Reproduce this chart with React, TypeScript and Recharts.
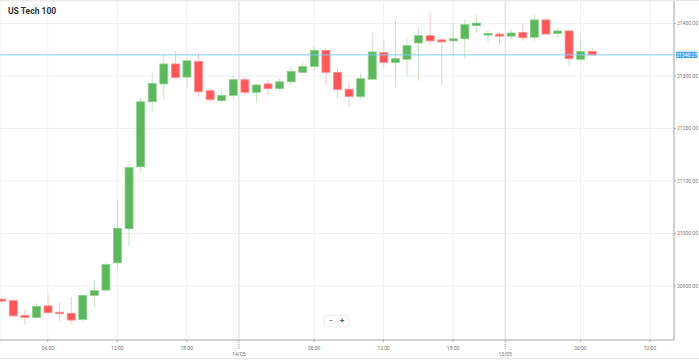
import React from "react";
import { ComposedChart, Bar, XAxis, YAxis, CartesianGrid, ReferenceLine } from "recharts";

// hourly candles, 13/05 02:00 -> 15/05 07:00 (the 23:00 hour is closed)
const opens = [
  20875, 20872, 20844, 20840, 20862, 20850, 20848, 20836, 20882, 20892, 20944, 21009, 21127, 21251,
  21285, 21323, 21298, 21328, 21272, 21253, 21263, 21293, 21269, 21285, 21276, 21289, 21307, 21318,
  21349, 21307, 21275, 21261, 21294, 21345, 21326, 21332, 21363, 21377, 21369, 21367, 21371, 21396,
  21378, 21380, 21376, 21383, 21374, 21407, 21381, 21386, 21332, 21347,
];
const closes = [
  20871, 20843, 20840, 20861, 20849, 20847, 20835, 20882, 20891, 20941, 21010, 21126, 21251, 21286,
  21323, 21297, 21329, 21270, 21255, 21263, 21293, 21269, 21283, 21276, 21289, 21309, 21318, 21349,
  21307, 21274, 21261, 21295, 21346, 21326, 21333, 21358, 21377, 21367, 21365, 21371, 21398, 21401,
  21381, 21376, 21382, 21373, 21407, 21380, 21386, 21333, 21347, 21340.27,
];
const highs = [
  20878, 20877, 20856, 20867, 20883, 20869, 20879, 20884, 20911, 20946, 21064, 21133, 21259, 21306,
  21340, 21348, 21331, 21344, 21275, 21274, 21302, 21298, 21285, 21293, 21296, 21317, 21325, 21356,
  21353, 21315, 21289, 21306, 21383, 21369, 21406, 21372, 21391, 21421, 21371, 21401, 21408, 21417,
  21388, 21384, 21388, 21399, 21417, 21411, 21391, 21388, 21369, 21354,
];
const lows = [
  20866, 20841, 20826, 20838, 20847, 20832, 20828, 20832, 20860, 20888, 20932, 20975, 21117, 21232,
  21255, 21294, 21277, 21261, 21249, 21251, 21255, 21262, 21249, 21264, 21272, 21283, 21305, 21309,
  21283, 21258, 21242, 21256, 21293, 21317, 21279, 21300, 21291, 21358, 21283, 21340, 21333, 21382,
  21365, 21358, 21369, 21367, 21367, 21378, 21375, 21319, 21328, 21340,
];

const tickPositions = [4, 10, 16, 20.5, 27, 33, 39, 43.5, 50, 56];
const tickLabels = ["06:00", "12:00", "18:00", "14/05", "06:00", "12:00", "18:00", "15/05", "06:00", "12:00"];
const dayBreaks = [20.5, 43.5];

const priceTicks = [20900, 21000, 21100, 21200, 21300, 21400];
const lastPrice = 21340.27;

const data = opens.map((o, i) => ({ i, open: o, close: closes[i], high: highs[i], low: lows[i] }));

const GREEN = "#5cb85c";
const RED = "#ff5757";

const Candle = (props: any) => {
  const { x, y, width, height, payload } = props;
  if (!payload) return null;
  const { open, close, high, low } = payload;
  const up = close >= open;
  const top = Math.min(y, y + height);
  const h = Math.abs(height);
  const ratio = h / (high - low || 1);
  const bodyTop = top + (high - Math.max(open, close)) * ratio;
  const bodyH = Math.max(Math.abs(open - close) * ratio, 1.5);
  const cx = x + width / 2;
  return (
    <g>
      <line x1={cx} x2={cx} y1={top} y2={top + h} stroke={up ? "#c3e4c2" : "#ffc4c4"} strokeWidth={1} />
      <rect
        x={x}
        y={bodyTop}
        width={width}
        height={bodyH}
        fill={up ? GREEN : RED}
        stroke={up ? "#8ccf8a" : "#ff8f8f"}
        strokeWidth={0.8}
      />
    </g>
  );
};

const TimeTick = (props: any) => {
  const { x, y, payload } = props;
  const idx = tickPositions.indexOf(payload.value);
  const label = idx >= 0 ? tickLabels[idx] : "";
  const isDate = label.includes("/");
  return (
    <g>
      {isDate ? (
        <line x1={x} x2={x} y1={y} y2={y + 10} stroke="#999" strokeDasharray="1 1" />
      ) : (
        <line x1={x} x2={x} y1={y} y2={y + 2} stroke="#aaa" />
      )}
      <text x={x} y={isDate ? y + 16 : y + 10} textAnchor="middle" fontSize={5} fill="#777">
        {label}
      </text>
    </g>
  );
};

const renderPriceLabel = (props: any) => {
  const vb = props.viewBox || {};
  const px = vb.x + vb.width + 2;
  const py = vb.y;
  return (
    <g>
      <rect x={px} y={py - 3.2} width={21.5} height={6.4} rx={1} fill="#3fa6f2" />
      <text x={px + 10.75} y={py + 1.8} textAnchor="middle" fontSize={5} fill="#fff">
        {lastPrice.toFixed(2)}
      </text>
    </g>
  );
};

export default function App() {
  return (
    <div
      style={{
        position: "absolute",
        left: 0,
        top: 0,
        width: 699,
        height: 360,
        background: "#fff",
        fontFamily: "Roboto, 'Open Sans', sans-serif",
      }}
    >
      <div style={{ position: "absolute", left: 0, top: 0, width: 699, height: 1, background: "#e6e6e6" }} />
      <div style={{ position: "absolute", left: 0, top: 358, width: 699, height: 1, background: "#e6e6e6" }} />
      <ComposedChart
        width={699}
        height={360}
        data={data}
        margin={{ top: 1, right: 0, bottom: 0, left: 0 }}
        style={{ fontFamily: "Roboto, sans-serif" }}
      >
        <CartesianGrid stroke="#f1f1f1" />
        <XAxis
          dataKey="i"
          type="number"
          domain={[-0.13, 58.08]}
          allowDataOverflow
          ticks={tickPositions}
          interval={0}
          tick={<TimeTick />}
          tickLine={false}
          tickSize={0}
          tickMargin={0}
          height={20}
          axisLine={{ stroke: "#aaa" }}
        />
        <YAxis
          orientation="right"
          domain={[20797, 21443]}
          allowDataOverflow
          ticks={priceTicks}
          interval={0}
          width={25}
          tickSize={2}
          tickMargin={1}
          tickLine={{ stroke: "#aaa" }}
          axisLine={{ stroke: "#aaa" }}
          tick={{ fontSize: 5, fill: "#777" }}
          tickFormatter={(v: number) => v.toFixed(2)}
        />
        {dayBreaks.map((d) => (
          <ReferenceLine key={d} x={d} stroke="#e2e2e2" strokeWidth={1.2} />
        ))}
        <ReferenceLine y={lastPrice} stroke="#86c9f7" strokeWidth={1} label={renderPriceLabel} />
        <Bar
          dataKey={(d: any) => [d.low, d.high]}
          barSize={8}
          shape={<Candle />}
          isAnimationActive={false}
        />
      </ComposedChart>
      <div
        style={{
          position: "absolute",
          left: 8,
          top: 6,
          fontSize: 8.5,
          fontWeight: 700,
          color: "#333",
          fontFamily: "Roboto, sans-serif",
        }}
      >
        US Tech 100
      </div>
      <div
        style={{
          position: "absolute",
          left: 325,
          top: 316,
          width: 23,
          height: 10,
          display: "flex",
          background: "#fff",
          boxShadow: "0 0 2px rgba(0,0,0,0.25)",
          borderRadius: 1,
          fontSize: 8,
          lineHeight: "10px",
          color: "#555",
          fontFamily: "Roboto, sans-serif",
        }}
      >
        <span style={{ flex: 1, textAlign: "center" }}>−</span>
        <span style={{ flex: 1, textAlign: "center", fontWeight: 700 }}>+</span>
      </div>
    </div>
  );
}
